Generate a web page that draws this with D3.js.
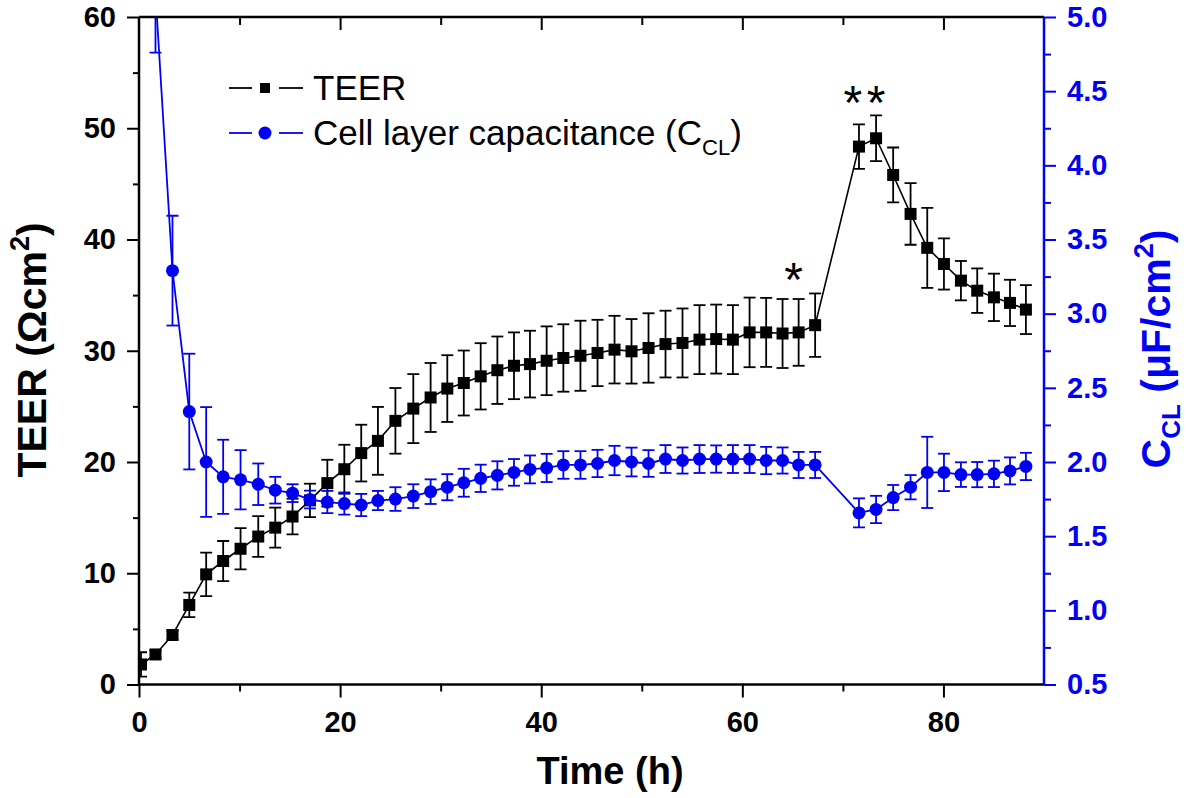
<!DOCTYPE html>
<html>
<head>
<meta charset="utf-8">
<script src="https://cdn.jsdelivr.net/npm/d3@7/dist/d3.min.js"></script>
<style>
  html, body { margin: 0; padding: 0; background: #fff; }
  svg { display: block; font-family: "Liberation Sans", Arial, sans-serif; }
</style>
</head>
<body>
<svg id="chart" width="1192" height="798"></svg>
<script>
// Measurement times (h)
const times = [0.2, 1.64, 3.33, 5.0, 6.68, 8.37, 10.1, 11.86, 13.55, 15.27, 17.0, 18.73, 20.42, 22.1,
  23.76, 25.5, 27.28, 29.0, 30.66, 32.3, 33.98, 35.64, 37.29, 38.88, 40.54, 42.2, 43.9, 45.6, 47.29,
  48.98, 50.67, 52.36, 54.05, 55.74, 57.4, 59.06, 60.72, 62.37, 64.0, 65.6, 67.24,
  71.6, 73.3, 75.0, 76.73, 78.39, 80.05, 81.74, 83.36, 85.02, 86.62, 88.2];

// TEER (Ohm cm^2), mean and error
const teer = [1.8, 2.7, 4.45, 7.15, 9.9, 11.1, 12.2, 13.3, 14.1, 15.1, 16.55, 18.1, 19.35, 20.8, 21.9,
  23.7, 24.8, 25.8, 26.6, 27.1, 27.7, 28.25, 28.65, 28.8, 29.1, 29.35, 29.55, 29.8, 30.1, 29.95, 30.25,
  30.6, 30.7, 31.0, 31.05, 31.0, 31.65, 31.65, 31.55, 31.65, 32.3,
  48.35, 49.1, 45.8, 42.3, 39.25, 37.8, 36.3, 35.4, 34.8, 34.3, 33.7];
const teerErr = [1.1, 0.35, 0.4, 1.1, 1.95, 1.8, 1.85, 1.83, 1.8, 1.6, 1.5, 2.1, 2.2, 2.55, 3.05,
  2.95, 3.1, 3.1, 3.0, 2.92, 2.98, 3.03, 3.0, 3.0, 3.09, 3.03, 3.15, 2.98, 3.04, 2.9, 3.12,
  3.0, 3.1, 3.1, 3.1, 3.1, 3.13, 3.1, 3.1, 3.0, 2.85,
  2.0, 2.05, 2.47, 2.77, 3.6, 2.3, 1.77, 2.0, 2.13, 2.08, 2.2];

// Cell layer capacitance C_CL (uF/cm^2), mean and error
const ccl = [null, 5.16, 3.29, 2.34, 2.0, 1.90, 1.88, 1.85, 1.81, 1.79, 1.747, 1.73, 1.72, 1.71, 1.74,
  1.75, 1.77, 1.80, 1.83, 1.86, 1.89, 1.91, 1.93, 1.95, 1.96, 1.98, 1.98, 1.99, 2.01, 2.0, 1.99,
  2.02, 2.01, 2.02, 2.02, 2.02, 2.02, 2.01, 2.01, 1.98, 1.98,
  1.657, 1.68, 1.76, 1.83, 1.93, 1.93, 1.915, 1.915, 1.92, 1.94, 1.97];
const cclErr = [null, 0.4, 0.37, 0.39, 0.37, 0.25, 0.2, 0.14, 0.09, 0.06, 0.06, 0.075, 0.075, 0.075, 0.065,
  0.08, 0.08, 0.083, 0.088, 0.094, 0.092, 0.095, 0.09, 0.094, 0.095, 0.093, 0.093, 0.092, 0.099, 0.097, 0.09,
  0.094, 0.088, 0.094, 0.092, 0.094, 0.094, 0.092, 0.088, 0.088, 0.088,
  0.098, 0.092, 0.085, 0.082, 0.24, 0.126, 0.083, 0.085, 0.089, 0.091, 0.092];

// Axis ticks
const xMajor = [0, 20, 40, 60, 80];
const xMinor = [10, 30, 50, 70];
const yLeftMajor = [0, 10, 20, 30, 40, 50, 60];
const yLeftMinor = [5, 15, 25, 35, 45, 55];
const yRightMajor = [0.5, 1.0, 1.5, 2.0, 2.5, 3.0, 3.5, 4.0, 4.5, 5.0];
const yRightMinor = [0.75, 1.25, 1.75, 2.25, 2.75, 3.25, 3.75, 4.25, 4.75];

// Significance marks: [time, TEER level]
const marks = [[65.1, 37.3], [71.0, 53.2], [73.3, 53.2]];

const BLUE = "#0000f2";
const svg = d3.select("#chart");
const L = 139, R = 1044, T = 17, B = 684.5;

const x = d3.scaleLinear().domain([0, 90]).range([L, R]);
const yL = d3.scaleLinear().domain([0, 60]).range([B, T]);
const yR = d3.scaleLinear().domain([0.5, 5.0]).range([B, T]);

svg.append("defs").append("clipPath").attr("id", "plotclip")
  .append("rect").attr("x", L).attr("y", T).attr("width", R - L).attr("height", B - T);

const teerData = times.map((t, i) => ({ t, v: teer[i], e: teerErr[i] }));
const cclData = times.map((t, i) => ({ t, v: ccl[i], e: cclErr[i] })).filter(d => d.v != null);

const plot = svg.append("g").attr("clip-path", "url(#plotclip)");

function drawSeries(data, yScale, color, shape, lw) {
  const g = plot.append("g");
  g.append("path").datum(data)
    .attr("fill", "none").attr("stroke", color).attr("stroke-width", lw)
    .attr("d", d3.line().x(d => x(d.t)).y(d => yScale(d.v)));
  const eb = g.append("g").attr("stroke", color).attr("stroke-width", 1.8);
  data.forEach(d => {
    const x0 = x(d.t), y1 = yScale(d.v + d.e), y2 = yScale(d.v - d.e);
    eb.append("line").attr("x1", x0).attr("x2", x0).attr("y1", y1).attr("y2", y2);
    eb.append("line").attr("x1", x0 - 6).attr("x2", x0 + 6).attr("y1", y1).attr("y2", y1);
    eb.append("line").attr("x1", x0 - 6).attr("x2", x0 + 6).attr("y1", y2).attr("y2", y2);
  });
  if (shape === "square") {
    g.selectAll("rect.m").data(data).enter().append("rect")
      .attr("x", d => x(d.t) - 6).attr("y", d => yScale(d.v) - 6)
      .attr("width", 12).attr("height", 12).attr("fill", color);
  } else {
    g.selectAll("circle.m").data(data).enter().append("circle")
      .attr("cx", d => x(d.t)).attr("cy", d => yScale(d.v)).attr("r", 6.5).attr("fill", color);
  }
}

drawSeries(teerData, yL, "#000", "square", 1.6);
drawSeries(cclData, yR, BLUE, "circle", 1.8);

// Axes
const tickFont = g => g.selectAll("text")
  .attr("font-size", 29).attr("font-weight", "bold")
  .attr("font-family", "'Liberation Sans', Arial, sans-serif");

function styleAxis(g, color) {
  g.select(".domain").remove();
  g.selectAll("line").attr("stroke", color).attr("stroke-width", 2);
  g.selectAll("text").attr("fill", color);
}

// bottom
const gB = svg.append("g").attr("transform", `translate(0,${B})`);
gB.call(d3.axisBottom(x).tickValues(xMajor).tickSize(13).tickPadding(14).tickFormat(d3.format("d")));
gB.call(tickFont); styleAxis(gB, "#000");
const gBm = svg.append("g").attr("transform", `translate(0,${B})`)
  .call(d3.axisBottom(x).tickValues(xMinor).tickSize(7).tickFormat(""));
styleAxis(gBm, "#000");

// top (ticks inward)
const gT = svg.append("g").attr("transform", `translate(0,${T})`)
  .call(d3.axisBottom(x).tickValues(xMajor.filter(v => v > 0)).tickSize(13).tickFormat(""));
styleAxis(gT, "#000");
const gTm = svg.append("g").attr("transform", `translate(0,${T})`)
  .call(d3.axisBottom(x).tickValues(xMinor).tickSize(8).tickFormat(""));
styleAxis(gTm, "#000");

// left
const gL = svg.append("g").attr("transform", `translate(${L},0)`);
gL.call(d3.axisLeft(yL).tickValues(yLeftMajor).tickSize(12).tickPadding(11).tickFormat(d3.format("d")));
gL.call(tickFont); styleAxis(gL, "#000");
const gLm = svg.append("g").attr("transform", `translate(${L},0)`)
  .call(d3.axisLeft(yL).tickValues(yLeftMinor).tickSize(6).tickFormat(""));
styleAxis(gLm, "#000");

// right
const gR = svg.append("g").attr("transform", `translate(${R},0)`);
gR.call(d3.axisRight(yR).tickValues(yRightMajor).tickSize(12).tickPadding(11).tickFormat(d3.format(".1f")));
gR.call(tickFont); styleAxis(gR, BLUE);
const gRm = svg.append("g").attr("transform", `translate(${R},0)`)
  .call(d3.axisRight(yR).tickValues(yRightMinor).tickSize(7).tickFormat(""));
styleAxis(gRm, BLUE);

// frame lines
svg.append("line").attr("x1", L).attr("x2", R).attr("y1", B).attr("y2", B).attr("stroke", "#000").attr("stroke-width", 2.5);
svg.append("line").attr("x1", L).attr("x2", R).attr("y1", T).attr("y2", T).attr("stroke", "#000").attr("stroke-width", 2.5);
svg.append("line").attr("x1", L).attr("x2", L).attr("y1", T).attr("y2", B).attr("stroke", "#000").attr("stroke-width", 2.5);
svg.append("line").attr("x1", R).attr("x2", R).attr("y1", T).attr("y2", B).attr("stroke", BLUE).attr("stroke-width", 2.5);

// Axis titles
svg.append("text").attr("x", 610).attr("y", 784).attr("text-anchor", "middle")
  .attr("font-size", 38).attr("font-weight", "bold").text("Time (h)");

const lt = svg.append("text").attr("transform", "translate(46,350) rotate(-90)")
  .attr("text-anchor", "middle").attr("font-size", 41).attr("font-weight", "bold");
lt.append("tspan").text("TEER (Ωcm");
lt.append("tspan").attr("font-size", 27).attr("dy", -17).text("2");
lt.append("tspan").attr("dy", 17).text(")");

const rt = svg.append("text").attr("transform", "translate(1170,349) rotate(-90)")
  .attr("text-anchor", "middle").attr("font-size", 41).attr("font-weight", "bold").attr("fill", BLUE);
rt.append("tspan").text("C");
rt.append("tspan").attr("font-size", 26).attr("dy", 10).text("CL");
rt.append("tspan").attr("dy", -10).text(" (μF/cm");
rt.append("tspan").attr("font-size", 27).attr("dy", -17).text("2");
rt.append("tspan").attr("dy", 17).text(")");

// Legend
const leg = svg.append("g");
[[88, "#000", "square"], [133, BLUE, "circle"]].forEach(([ly, c, s]) => {
  leg.append("line").attr("x1", 229).attr("x2", 252).attr("y1", ly).attr("y2", ly).attr("stroke", c).attr("stroke-width", 1.8);
  leg.append("line").attr("x1", 279).attr("x2", 303).attr("y1", ly).attr("y2", ly).attr("stroke", c).attr("stroke-width", 1.8);
  if (s === "square") leg.append("rect").attr("x", 260).attr("y", ly - 5).attr("width", 10).attr("height", 10).attr("fill", c);
  else leg.append("circle").attr("cx", 265).attr("cy", ly).attr("r", 6.5).attr("fill", c);
});
leg.append("text").attr("x", 313).attr("y", 100).attr("font-size", 35).text("TEER");
const lc = leg.append("text").attr("x", 313).attr("y", 145).attr("font-size", 35);
lc.append("tspan").text("Cell layer capacitance (C");
lc.append("tspan").attr("font-size", 22).attr("dy", 10).text("CL");
lc.append("tspan").attr("dy", -10).text(")");

// Significance asterisks
const sigSize = 48;
svg.selectAll("text.sig").data(marks).enter().append("text").attr("class", "sig")
  .attr("x", d => x(d[0])).attr("y", d => yL(d[1]) + 0.556 * sigSize)
  .attr("text-anchor", "middle").attr("font-size", sigSize).text("*");
</script>
</body>
</html>
